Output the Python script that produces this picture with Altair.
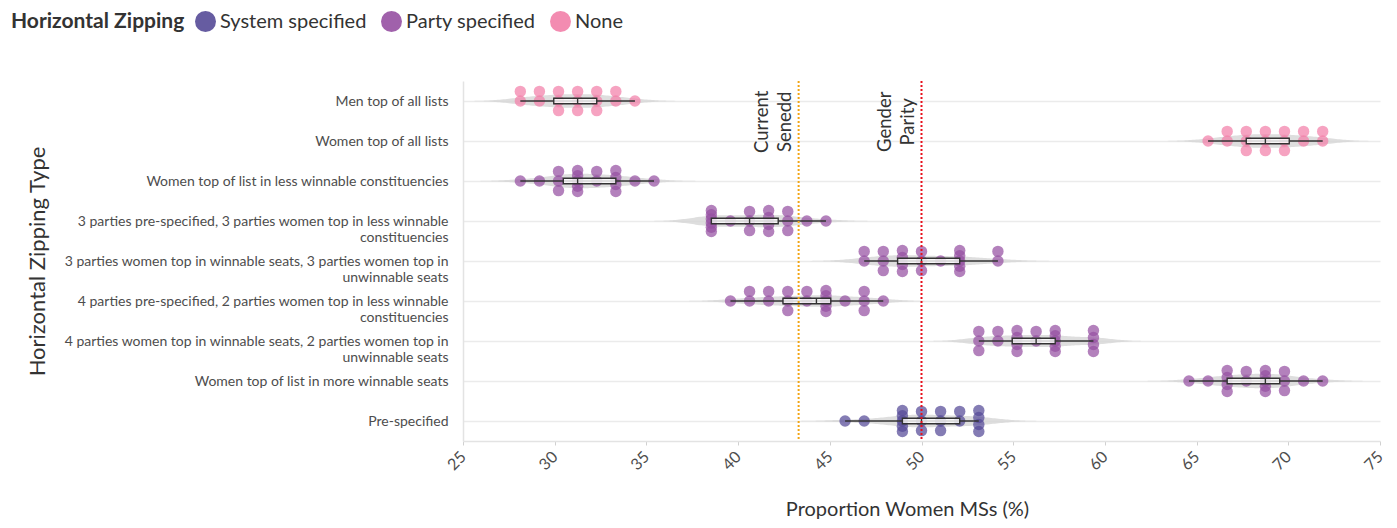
import json
import altair as alt
import pandas as pd

TOTAL_SEATS = 96
CURRENT_SENEDD = 43.3
GENDER_PARITY = 50.0

row_labels = [
    "Men top of all lists",
    "Women top of all lists",
    "Women top of list in less winnable constituencies",
    ["3 parties pre-specified, 3 parties women top in less winnable", "constituencies"],
    ["3 parties women top in winnable seats, 3 parties women top in", "unwinnable seats"],
    ["4 parties pre-specified, 2 parties women top in less winnable", "constituencies"],
    ["4 parties women top in winnable seats, 2 parties women top in", "unwinnable seats"],
    "Women top of list in more winnable seats",
    "Pre-specified",
]
row_zipping = ["None", "None", "Party specified", "Party specified", "Party specified",
               "Party specified", "Party specified", "Party specified", "System specified"]

# number of women MSs (out of 96) and how many runs produced that number
women_seats = [
    [27, 28, 29, 30, 31, 32, 33],
    [63, 64, 65, 66, 67, 68, 69],
    [27, 28, 29, 30, 31, 32, 33, 34],
    [37, 38, 39, 40, 41, 42, 43],
    [45, 46, 47, 48, 49, 50, 52],
    [38, 39, 40, 41, 42, 43, 44, 45, 46],
    [51, 52, 53, 54, 55, 57],
    [62, 63, 64, 65, 66, 67, 68, 69],
    [44, 45, 47, 48, 49, 50, 51],
]
run_counts = [
    [2, 2, 3, 3, 3, 2, 1],
    [1, 2, 3, 3, 3, 2, 2],
    [1, 1, 3, 5, 2, 4, 1, 1],
    [6, 1, 3, 4, 3, 1, 1],
    [2, 3, 4, 3, 1, 5, 2],
    [1, 2, 2, 3, 2, 5, 1, 3, 1],
    [3, 2, 4, 2, 5, 4],
    [1, 1, 4, 2, 5, 3, 1, 1],
    [1, 1, 5, 3, 3, 2, 4],
]

zip_order = ["System specified", "Party specified", "None"]
zip_colors = ["#554a97", "#9650a2", "#f27fa9"]

DOT_STEP = 0.24  # vertical stacking step, in row units


def stack_offsets(n):
    if n <= 3:
        return [0, -1, 1][:n]
    return [-1.1 + 2.2 * i / (n - 1) for i in range(n)]


recs = []
for r, (seats, counts) in enumerate(zip(women_seats, run_counts), start=1):
    for k, c in zip(seats, counts):
        for off in stack_offsets(c):
            recs.append({"row": r, "zipping": row_zipping[r - 1],
                         "pct": k / TOTAL_SEATS * 100, "ypos": r + off * DOT_STEP})
points = pd.DataFrame(recs)

label_expr = json.dumps(row_labels) + "[datum.value - 1]"

xscale = alt.Scale(domain=[25, 75], nice=False, zero=False)
yscale = alt.Scale(domain=[0.5, 9.5], reverse=True, nice=False, zero=False)

xaxis = alt.Axis(values=list(range(25, 80, 5)), labelAngle=315, labelAlign="right",
                 labelBaseline="middle", labelFontSize=16, labelColor="#4d4d4d",
                 labelPadding=9, tickColor="#d0d0d0", tickSize=4, domainColor="#e3e3e3",
                 domainWidth=1.5, grid=False, title="Proportion Women MSs (%)",
                 titleFontSize=20, titleFontWeight="normal", titleColor="#333",
                 titleX=444, titleY=68, titleBaseline="middle", titleAlign="center")
yaxis = alt.Axis(values=list(range(1, 10)), labelExpr=label_expr, labelAlign="right",
                 labelBaseline="middle", labelFontSize=14, labelColor="#4d4d4d",
                 labelLineHeight=16, labelLimit=600, labelPadding=15, ticks=False,
                 domainColor="#e3e3e3", domainWidth=1.5, grid=True, gridColor="#ebebeb",
                 gridWidth=1.5, title="Horizontal Zipping Type", titleFontSize=22,
                 titleFontWeight="normal", titleColor="#333", titleX=-426, titleY=180,
                 titleAngle=270, titleBaseline="middle", titleAlign="center")


def X(f):
    return alt.X(f, type="quantitative", scale=xscale, axis=xaxis)


def Y(f):
    return alt.Y(f, type="quantitative", scale=yscale, axis=yaxis)


violin = (
    alt.Chart(points)
    .transform_density("pct", groupby=["row"], extent=[25, 75], steps=500, as_=["pct", "density"])
    .transform_filter("datum.density > 0.002")
    .transform_calculate(vtop="datum.row - datum.density * 1.0",
                         vbot="datum.row + datum.density * 1.0")
    .mark_area(color="#d6d6d6", opacity=0.8, orient="vertical")
    .encode(x=X("pct"), y=Y("vtop"), y2=alt.Y2("vbot"), detail="row:N")
)

dots = alt.Chart(points).mark_circle(size=130, opacity=0.72).encode(
    x=X("pct"), y=Y("ypos"),
    color=alt.Color("zipping:N", scale=alt.Scale(domain=zip_order, range=zip_colors),
                    legend=alt.Legend(title="Horizontal Zipping", orient="none",
                                      legendX=-452, legendY=-70, direction="horizontal",
                                      titleOrient="left", titleFontSize=21,
                                      titleFontWeight="bold", titleColor="#333",
                                      labelFontSize=20, labelColor="#333", labelLimit=400,
                                      titleLimit=400,
                                      symbolSize=441, symbolType="circle",
                                      symbolOpacity=0.9, symbolStrokeWidth=0,
                                      columnPadding=14, labelOffset=4, titlePadding=10)),
)

box_base = alt.Chart(points).transform_aggregate(
    q1="q1(pct)", med="median(pct)", q3="q3(pct)", lo="min(pct)", hi="max(pct)",
    groupby=["row"],
).transform_calculate(ytop="datum.row - 0.07", ybot="datum.row + 0.07")

whisker = box_base.mark_rule(color="#333", strokeWidth=1.6).encode(
    x=X("lo"), x2=alt.X2("hi"), y=Y("row"))
box = box_base.mark_rect(fill="white", fillOpacity=0.8, stroke="#333", strokeWidth=1.4).encode(
    x=X("q1"), x2=alt.X2("q3"), y=Y("ytop"), y2=alt.Y2("ybot"))
median = box_base.mark_rule(color="#333", strokeWidth=1.4).encode(
    x=X("med"), y=Y("ytop"), y2=alt.Y2("ybot"))

refs = pd.DataFrame({"pct": [CURRENT_SENEDD, GENDER_PARITY],
                     "label": ["Current\nSenedd", "Gender\nParity"]})

rule_cs = alt.Chart(refs[refs.pct == CURRENT_SENEDD]).mark_rule(
    color="#f2a516", strokeDash=[2, 2], strokeWidth=2).encode(x=X("pct"))
rule_gp = alt.Chart(refs[refs.pct == GENDER_PARITY]).mark_rule(
    color="#e8101c", strokeDash=[2, 2], strokeWidth=2).encode(x=X("pct"))

ann = alt.Chart(refs).mark_text(angle=270, align="center", baseline="bottom", lineBreak="\n",
                                fontSize=18.5, color="#333", lineHeight=23, dy=-27).encode(
    x=X("pct"), y=alt.datum(1.52), text="label:N")

chart = alt.layer(violin, dots, whisker, box, median, rule_cs, rule_gp, ann).properties(
    width=917, height=360,
    autosize=alt.AutoSizeParams(type="none"),
    padding={"left": 455, "top": 73, "right": 9, "bottom": 80},
).configure(font="Lato").configure_view(stroke=None)

chart.save("out.html", embed_options={"renderer": "svg", "actions": False})
